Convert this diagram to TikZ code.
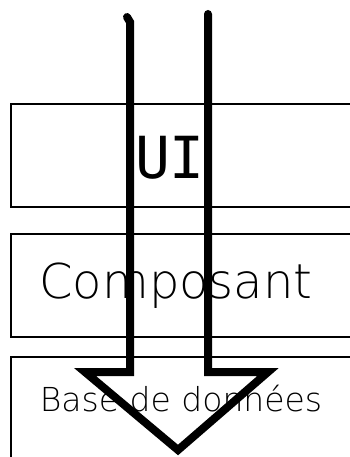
\documentclass[tikz,border=0pt]{standalone}
\usepackage{fontspec}
\setmainfont{DejaVu Sans ExtraLight}
\newfontfamily\monofont{DejaVu Sans Mono}
\begin{document}
\begin{tikzpicture}[x=1pt,y=-1pt,
  layer/.style={draw=black,line width=1.1pt,rectangle,inner sep=0pt},
  label/.style={inner sep=0pt,anchor=base},
  bigarrow/.style={draw=black,line width=8pt,line join=miter,line cap=round}]
\useasboundingbox (0,0) rectangle (350,457);
\clip (0,0) rectangle (350,457);
\fill[white] (0,0) rectangle (350,457);
% three stacked layers
\node[layer,minimum width=349pt,minimum height=103pt] (ui) at (185.5,155.5) {};
\node[layer,minimum width=349pt,minimum height=103pt] (comp) at (185.5,285.5) {};
\node[layer,minimum width=349pt,minimum height=113pt] (db) at (185.5,413.5) {};
% layer names
\node[label,font=\monofont\fontsize{58}{58}\selectfont] (uit) at (170,178) {UI};
\node[label,font=\fontsize{48}{48}\selectfont] (compt) at (176,298) {Composant};
\node[label,font=\fontsize{33}{33}\selectfont] (dbt) at (181,411) {Base de données};
% hand-drawn flow arrow
\coordinate (a1) at (127,17);
\coordinate (a2) at (130,22);
\coordinate (a3) at (130,372);
\coordinate (a4) at (85,372);
\coordinate (tip) at (178,450);
\coordinate (a6) at (268,372);
\coordinate (a7) at (208,372);
\coordinate (a8) at (208,14);
\draw[bigarrow] (a1) -- (a2) -- (a3) -- (a4) -- (tip) -- (a6) -- (a7) -- (a8);
\end{tikzpicture}
\end{document}
